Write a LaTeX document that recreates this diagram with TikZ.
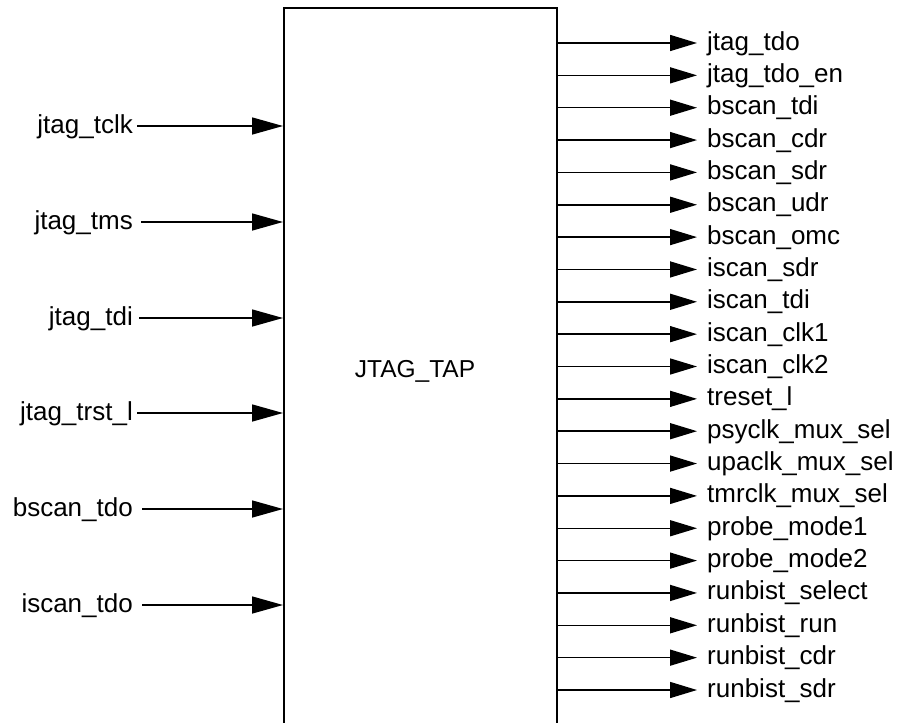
\documentclass[tikz,border=0pt]{standalone}
\usepackage{fontspec}
\setmainfont{Liberation Sans}
\usetikzlibrary{arrows.meta}
\begin{document}
\begin{tikzpicture}[x=1pt,y=-1pt,
  sig/.style={font=\fontsize{26}{30}\selectfont,inner sep=0pt},
  inarr/.style={line width=1.5pt,-{Triangle[length=31pt,width=17pt]}},
  outarr/.style={line width=1.5pt,-{Triangle[length=27pt,width=16pt]}},
  blockbox/.style={draw,line width=2pt,rectangle,inner sep=0pt}]
\clip (0,0) rectangle (900,723);
\node[blockbox,anchor=north west,minimum width=273pt,minimum height=740pt] (tap) at (283,7) {};
\node[sig,font=\fontsize{24.5}{30}\selectfont,anchor=base] (tapl) at (415,377) {JTAG\_TAP};
% inputs
\foreach \name/\lab/\y/\gap in {tclk/jtag\_tclk/126/4, tms/jtag\_tms/222/8, tdi/jtag\_tdi/318/6, trst/jtag\_trst\_l/413/4, btdo/bscan\_tdo/509/9, itdo/iscan\_tdo/605/9}{
  \node[sig,anchor=base east] (in\name) at (133,\y+7) {\lab};
  \coordinate (s\name) at (133+\gap,\y);
  \coordinate (e\name) at (283,\y);
  \draw[inarr] (s\name) -- (e\name);
}
% outputs
\foreach \lab [count=\i from 0] in {jtag\_tdo,jtag\_tdo\_en,bscan\_tdi,bscan\_cdr,bscan\_sdr,bscan\_udr,bscan\_omc,iscan\_sdr,iscan\_tdi,iscan\_clk1,iscan\_clk2,treset\_l,psyclk\_mux\_sel,upaclk\_mux\_sel,tmrclk\_mux\_sel,probe\_mode1,probe\_mode2,runbist\_select,runbist\_run,runbist\_cdr,runbist\_sdr}{
  \pgfmathsetmacro{\yy}{43+32.35*\i}
  \coordinate (o\i) at (556,\yy);
  \coordinate (t\i) at (697,\yy);
  \draw[outarr] (o\i) -- (t\i);
  \node[sig,anchor=base west] (ol\i) at (707,\yy+7) {\lab};
}
\end{tikzpicture}
\end{document}
